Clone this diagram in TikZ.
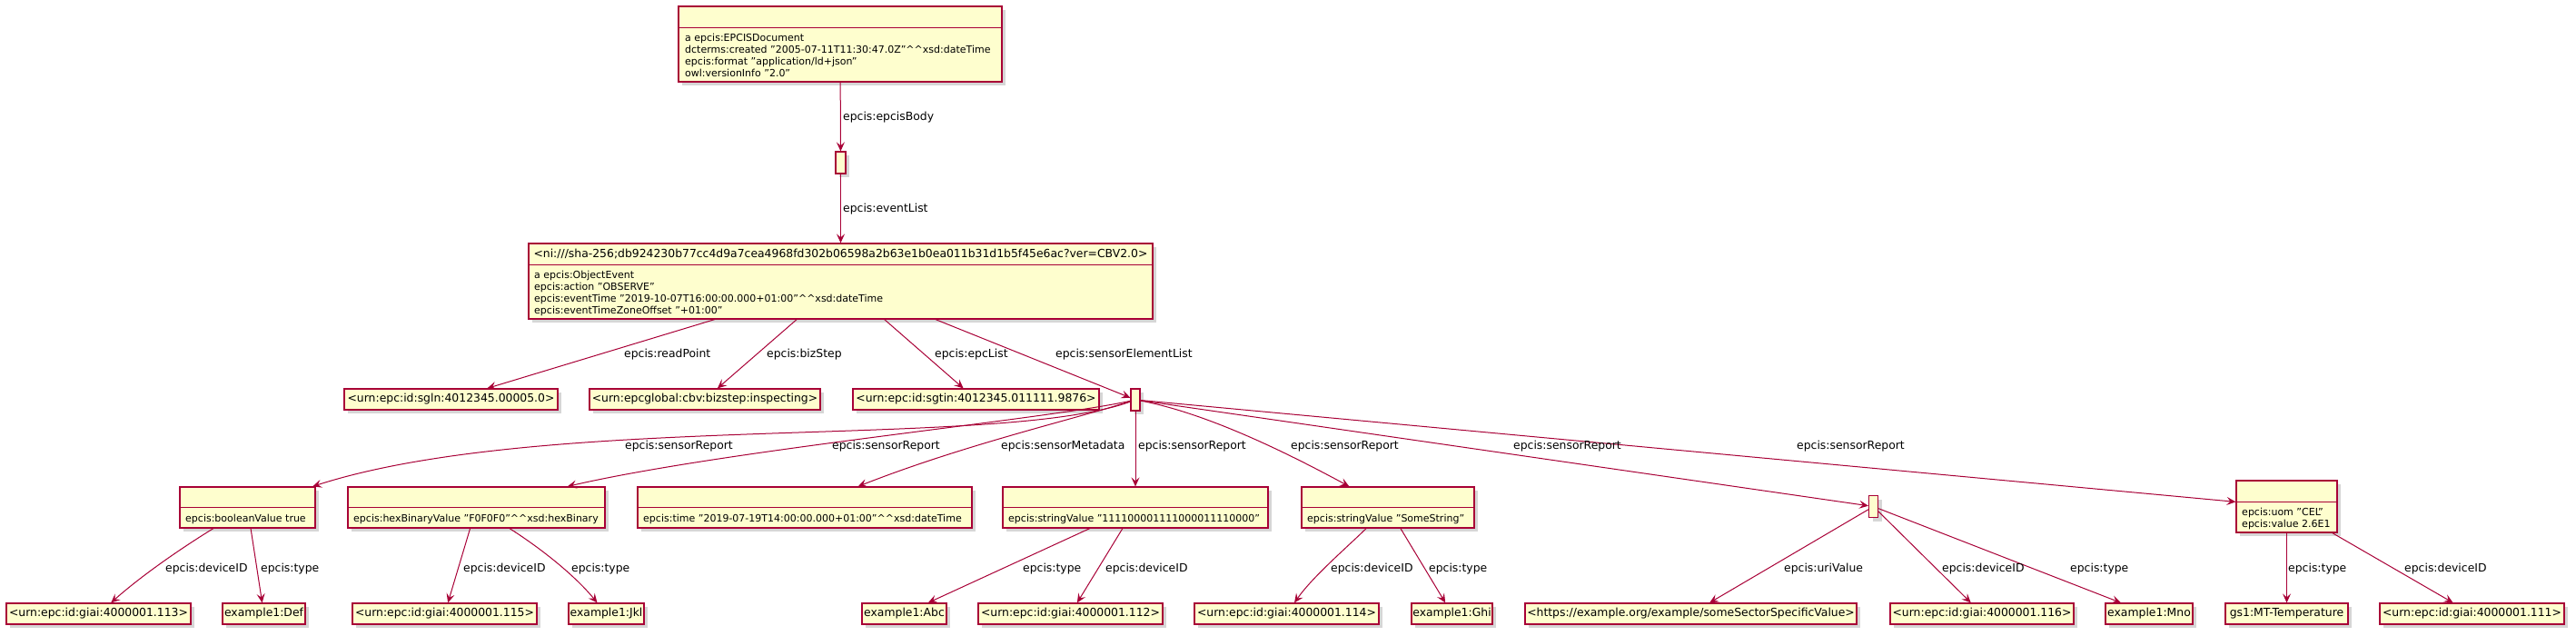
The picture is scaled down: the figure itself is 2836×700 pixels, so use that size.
\documentclass[tikz,border=0pt]{standalone}
\usepackage{fontspec}
\setmainfont{DejaVu Sans}
\usetikzlibrary{arrows.meta,shadows}
\definecolor{crim}{HTML}{A80036}
\definecolor{cream}{HTML}{FEFECE}

\begin{document}
\begin{tikzpicture}[x=1pt, y=-1pt,
    objbox/.style={draw=crim, fill=cream, line width=1.2pt, inner sep=0pt,
      drop shadow={shadow xshift=4pt, shadow yshift=-4pt, opacity=1, fill=black!16}},
    iri/.style={objbox, minimum height=23pt, font=\fontsize{12.4}{15}\selectfont, text height=9pt, text depth=2.5pt},
    bnode/.style={objbox, minimum width=10pt, minimum height=24pt},
    sepline/.style={draw=crim, line width=1.2pt},
    attr/.style={anchor=north west, align=left, inner sep=0pt, font=\fontsize{11}{13}\selectfont},
    lbl/.style={anchor=west, inner sep=0pt, font=\fontsize{12.4}{15}\selectfont, text height=9pt, text depth=2.5pt},
    link/.style={draw=crim, line width=1pt, -{Stealth[length=10pt, width=9pt, inset=4pt]}}]
    \useasboundingbox (0,0) rectangle (2836,700);

    \node[objbox, minimum width=356pt, minimum height=83pt] (doc) at (925,48.5) {};
    \draw[sepline] ([yshift=-24pt]doc.north west) -- ([yshift=-24pt]doc.north east);
    \node[attr] (docA) at (754,35.9) {\strut a epcis:EPCISDocument\\dcterms:created "2005-07-11T11:30:47.0Z"\textasciicircum\textasciicircum xsd:dateTime\\epcis:format "application/ld+json"\\owl:versionInfo "2.0"};

    \node[bnode, minimum width=11pt] (body) at (925.5,179) {};

    \node[objbox, minimum width=687pt, minimum height=83pt] (ev) at (925.5,309.5) {};
    \draw[sepline] ([yshift=-24pt]ev.north west) -- ([yshift=-24pt]ev.north east);
    \node[lbl, anchor=center] (evH) at (925.5,280) {<ni:///sha-256;db924230b77cc4d9a7cea4968fd302b06598a2b63e1b0ea011b31d1b5f45e6ac?ver=CBV2.0>};
    \node[attr] (evA) at (588,296.9) {\strut a epcis:ObjectEvent\\epcis:action "OBSERVE"\\epcis:eventTime "2019-10-07T16:00:00.000+01:00"\textasciicircum\textasciicircum xsd:dateTime\\epcis:eventTimeZoneOffset "+01:00"};

    \node[iri, minimum width=235pt] (sgln) at (496.5,439.5) {<urn:epc:id:sgln:4012345.00005.0>};
    \node[iri, minimum width=254pt] (biz) at (776,439.5) {<urn:epcglobal:cbv:bizstep:inspecting>};
    \node[iri, minimum width=271pt] (sgtin) at (1074.5,439.5) {<urn:epc:id:sgtin:4012345.011111.9876>};
    \node[bnode] (sel) at (1250,440) {};

    \node[objbox, minimum width=149pt, minimum height=45pt] (bool) at (272.5,558.5) {};
    \draw[sepline] ([yshift=-23pt]bool.north west) -- ([yshift=-23pt]bool.north east);
    \node[attr] (boolA) at (204,564.9) {\strut epcis:booleanValue true};
    \node[objbox, minimum width=283pt, minimum height=45pt] (hex) at (524.5,558.5) {};
    \draw[sepline] ([yshift=-23pt]hex.north west) -- ([yshift=-23pt]hex.north east);
    \node[attr] (hexA) at (389,564.9) {\strut epcis:hexBinaryValue "F0F0F0"\textasciicircum\textasciicircum xsd:hexBinary};
    \node[objbox, minimum width=368pt, minimum height=45pt] (time) at (886,558.5) {};
    \draw[sepline] ([yshift=-23pt]time.north west) -- ([yshift=-23pt]time.north east);
    \node[attr] (timeA) at (708,564.9) {\strut epcis:time "2019-07-19T14:00:00.000+01:00"\textasciicircum\textasciicircum xsd:dateTime};
    \node[objbox, minimum width=292pt, minimum height=45pt] (bits) at (1250,558.5) {};
    \draw[sepline] ([yshift=-23pt]bits.north west) -- ([yshift=-23pt]bits.north east);
    \node[attr] (bitsA) at (1110,564.9) {\strut epcis:stringValue "111100001111000011110000"};
    \node[objbox, minimum width=190pt, minimum height=45pt] (str) at (1528,558.5) {};
    \draw[sepline] ([yshift=-23pt]str.north west) -- ([yshift=-23pt]str.north east);
    \node[attr] (strA) at (1439,564.9) {\strut epcis:stringValue "SomeString"};
    \node[bnode] (uriV) at (2062.5,557.5) {};
    \node[objbox, minimum width=111pt, minimum height=57pt] (temp) at (2517.5,557.5) {};
    \draw[sepline] ([yshift=-24pt]temp.north west) -- ([yshift=-24pt]temp.north east);
    \node[attr] (tempA) at (2468,558.4) {\strut epcis:uom "CEL"\\epcis:value 2.6E1};

    \node[iri, minimum width=203pt] (g113) at (108.5,675.5) {<urn:epc:id:giai:4000001.113>};
    \node[iri, minimum width=91pt] (def) at (290.5,675.5) {example1:Def};
    \node[iri, minimum width=203pt] (g115) at (489.5,675.5) {<urn:epc:id:giai:4000001.115>};
    \node[iri, minimum width=83pt] (jkl) at (667.5,675.5) {example1:Jkl};
    \node[iri, minimum width=93pt] (abc) at (995.5,675.5) {example1:Abc};
    \node[iri, minimum width=203pt] (g112) at (1178.5,675.5) {<urn:epc:id:giai:4000001.112>};
    \node[iri, minimum width=203pt] (g114) at (1416.5,675.5) {<urn:epc:id:giai:4000001.114>};
    \node[iri, minimum width=89pt] (ghi) at (1598.5,675.5) {example1:Ghi};
    \node[iri, minimum width=365pt] (site) at (1861.5,675.5) {<https://example.org/example/someSectorSpecificValue>};
    \node[iri, minimum width=202pt] (g116) at (2182,675.5) {<urn:epc:id:giai:4000001.116>};
    \node[iri, minimum width=96pt] (mno) at (2366,675.5) {example1:Mno};
    \node[iri, minimum width=135pt] (gs1) at (2517.5,675.5) {gs1:MT-Temperature};
    \node[iri, minimum width=203pt] (g111) at (2721.5,675.5) {<urn:epc:id:giai:4000001.111>};

    \draw[link] (doc) -- (body);
    \draw[link] (body) -- (ev);
    \draw[link] (ev) -- (sgln);
    \draw[link] (ev) -- (biz);
    \draw[link] (ev) -- (sgtin);
    \draw[link] (ev) -- (sel);
    \draw[link] (sel) .. controls (1100,495) and (600,453) .. (bool);
    \draw[link] (sel) .. controls (1150,462) and (800,495) .. (hex);
    \draw[link] (sel) .. controls (1180,462) and (1060,490) .. (time);
    \draw[link] (sel) -- (bits);
    \draw[link] (sel) .. controls (1330,455) and (1420,500) .. (str);
    \draw[link] (sel) -- (uriV);
    \draw[link] (sel) -- (temp);
    \draw[link] (bool) .. controls (205,600) and (160,630) .. (g113);
    \draw[link] (bool) -- (def);
    \draw[link] (hex) -- (g115);
    \draw[link] (hex) .. controls (590,600) and (630,630) .. (jkl);
    \draw[link] (bits) -- (abc);
    \draw[link] (bits) -- (g112);
    \draw[link] (str) .. controls (1480,605) and (1445,635) .. (g114);
    \draw[link] (str) -- (ghi);
    \draw[link] (uriV) -- (site);
    \draw[link] (uriV) -- (g116);
    \draw[link] (uriV) -- (mno);
    \draw[link] (temp) -- (gs1);
    \draw[link] (temp) -- (g111);

    \node[lbl] (lBody) at (928,129.4) {epcis:epcisBody};
    \node[lbl] (lList) at (928,230.4) {epcis:eventList};
    \node[lbl] (lRead) at (687,390) {epcis:readPoint};
    \node[lbl] (lBiz) at (844,390) {epcis:bizStep};
    \node[lbl] (lEpc) at (1029,390) {epcis:epcList};
    \node[lbl] (lSel) at (1162,390) {epcis:sensorElementList};
    \node[lbl] (lRepA) at (688,491) {epcis:sensorReport};
    \node[lbl] (lRepB) at (916,491) {epcis:sensorReport};
    \node[lbl] (lMeta) at (1102,491) {epcis:sensorMetadata};
    \node[lbl] (lRepC) at (1253,491) {epcis:sensorReport};
    \node[lbl] (lRepD) at (1421,491) {epcis:sensorReport};
    \node[lbl] (lRepE) at (1666,491) {epcis:sensorReport};
    \node[lbl] (lRepF) at (1978,491) {epcis:sensorReport};
    \node[lbl] (lDevA) at (182,626) {epcis:deviceID};
    \node[lbl] (lTypA) at (287,626) {epcis:type};
    \node[lbl] (lDevB) at (510,626) {epcis:deviceID};
    \node[lbl] (lTypB) at (629,626) {epcis:type};
    \node[lbl] (lTypC) at (1126,626) {epcis:type};
    \node[lbl] (lDevC) at (1217,626) {epcis:deviceID};
    \node[lbl] (lDevD) at (1465,626) {epcis:deviceID};
    \node[lbl] (lTypD) at (1573,626) {epcis:type};
    \node[lbl] (lUri) at (1964,626) {epcis:uriValue};
    \node[lbl] (lDevE) at (2138,626) {epcis:deviceID};
    \node[lbl] (lTypE) at (2279,626) {epcis:type};
    \node[lbl] (lTypF) at (2519,626) {epcis:type};
    \node[lbl] (lDevF) at (2647,626) {epcis:deviceID};
\end{tikzpicture}
\end{document}
